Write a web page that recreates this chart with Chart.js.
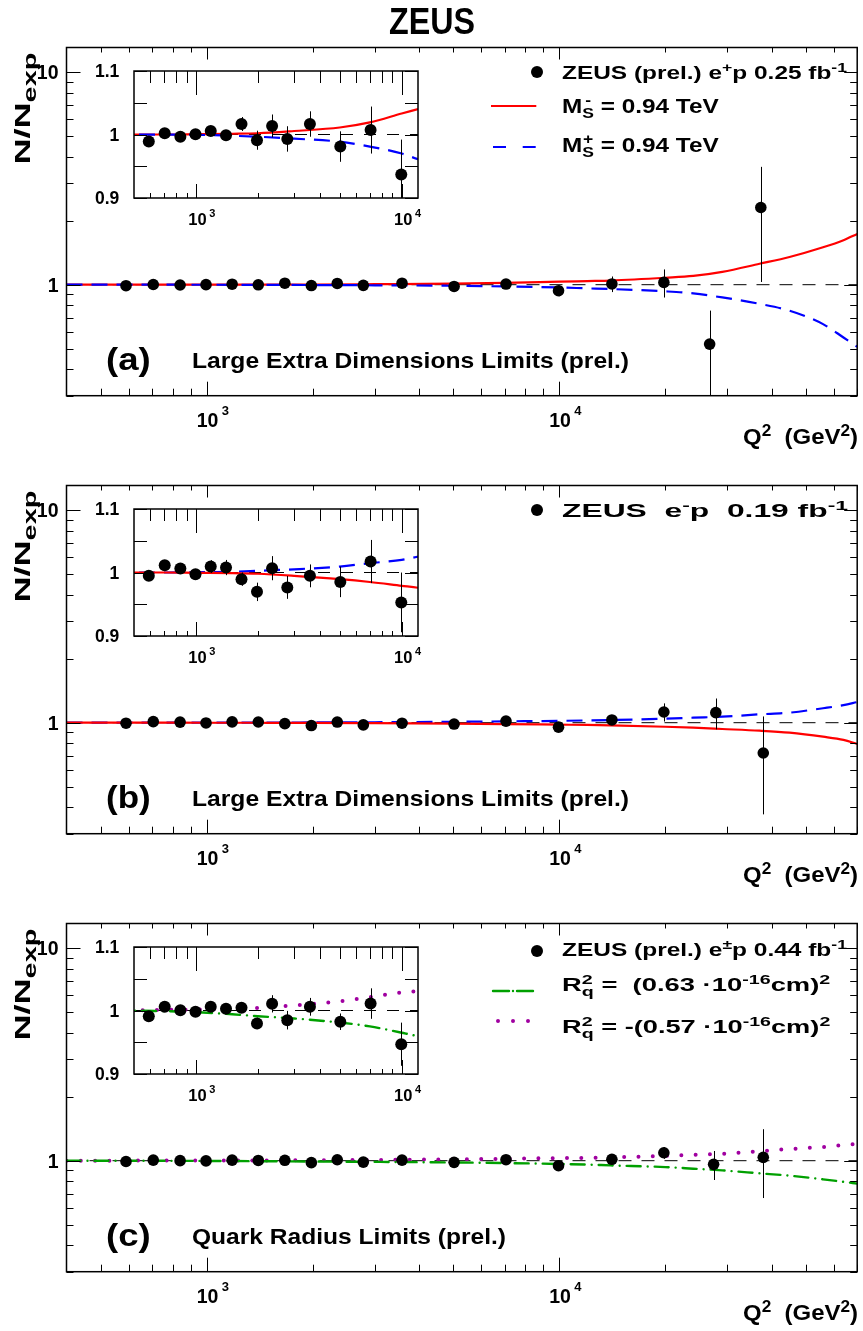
<!DOCTYPE html>
<html lang="en">
<head>
<meta charset="UTF-8" />
<title>ZEUS N/Nexp</title>
<script src="https://cdn.jsdelivr.net/npm/chart.js"></script>
<style>
  body { margin: 0; background: #fff; }
  #page { position: relative; width: 863px; height: 1331px; overflow: hidden;
          font-family: "Liberation Sans", Arial, Helvetica, sans-serif; font-weight: bold; color: #000; }
  canvas { position: absolute; }
  .t { position: absolute; white-space: nowrap; line-height: 1; }
  .sup { position: relative; top: -0.55em; font-size: 0.72em; }
  .sub { position: relative; top: 0.35em; font-size: 0.72em; }
  .leg { position: absolute; }
</style>
</head>
<body>
<div id="page"></div>

<script>
// ---- data ----
// Q2 bin centres (GeV^2); the last two bins sit a little differently per panel
const q2Common = [590, 705, 840, 995, 1180, 1400, 1665, 1980, 2345, 2780, 3580, 5030, 7060, 9950, 14100, 19800];
const q2A = [...q2Common, 26700, 37300];
const q2B = [...q2Common, 27800, 37900];
const q2C = [...q2Common, 27400, 37900];

// N/Nexp and errors
const ratioA = [0.989, 1.002, 0.9965, 1.0003, 1.0055, 0.999, 1.0165, 0.991, 1.0135, 0.993, 1.0165, 0.981, 1.007, 0.937, 1.008, 1.025, 0.525, 2.31];
const errA   = [0.006, 0.006, 0.006, 0.007, 0.007, 0.007, 0.011, 0.015, 0.018, 0.02, 0.02, 0.024, 0.037, 0.055, 0.085, 0.155, 0.23, 1.28];
const ratioB = [0.9947, 1.0115, 1.0063, 0.9973, 1.0094, 1.0078, 0.9895, 0.9695, 1.0068, 0.9765, 0.9947, 0.9852, 1.0173, 0.9529, 1.03, 1.123, 1.115, 0.72];
const errB   = [0.006, 0.007, 0.007, 0.007, 0.01, 0.012, 0.0105, 0.0145, 0.019, 0.018, 0.018, 0.024, 0.034, 0.047, 0.05, 0.11, 0.185, 0.35];
const ratioC = [0.9911, 1.0058, 1.0005, 0.998, 1.0058, 1.0027, 1.0042, 0.9797, 1.0105, 0.9848, 1.0058, 0.9823, 1.0109, 0.9469, 1.015, 1.09, 0.961, 1.037];
const errC   = [0.005, 0.005, 0.005, 0.005, 0.006, 0.006, 0.007, 0.009, 0.0136, 0.0146, 0.014, 0.013, 0.024, 0.034, 0.045, 0.07, 0.15, 0.37];

// model curves, sampled at these Q2 values
const curveQ2  = [400, 700, 1000, 1500, 2000, 3000, 5000, 7000, 10000, 12000, 14000, 20000, 24000, 29000, 37000, 45000, 56000, 64000, 70000];
const msMinusA = [1.0, 1.0, 1.0005, 1.0012, 1.002, 1.0055, 1.011, 1.019, 1.033, 1.04, 1.046, 1.078, 1.10, 1.15, 1.255, 1.35, 1.5, 1.62, 1.735];
const msPlusA  = [1.0, 0.9998, 0.9995, 0.998, 0.9965, 0.9934, 0.9887, 0.981, 0.97, 0.961, 0.954, 0.93, 0.91, 0.871, 0.812, 0.754, 0.652, 0.564, 0.51];
const msMinusB = [1.0, 1.0, 0.9995, 0.999, 0.998, 0.9947, 0.9895, 0.985, 0.979, 0.976, 0.972, 0.957, 0.947, 0.934, 0.917, 0.897, 0.859, 0.83, 0.794];
const msPlusB  = [1.0, 1.0, 1.0005, 1.001, 1.0026, 1.005, 1.0094, 1.0146, 1.02, 1.025, 1.03, 1.044, 1.056, 1.067, 1.095, 1.115, 1.17, 1.21, 1.25];
const rqPosC   = [1.0, 0.999, 0.9974, 0.994, 0.991, 0.9875, 0.981, 0.975, 0.965, 0.959, 0.95, 0.933, 0.917, 0.9, 0.872, 0.85, 0.817, 0.795, 0.78];
const rqNegC   = [1.0, 1.001, 1.0015, 1.003, 1.004, 1.008, 1.0146, 1.021, 1.0286, 1.031, 1.036, 1.053, 1.066, 1.078, 1.108, 1.135, 1.16, 1.185, 1.2];

// axes
const mainQ2Range = [400, 70000];
const mainRatioRange = [0.3, 13.1];
const insetQ2Range = [500, 12000];
const insetRatioRange = [0.9, 1.1];
const insetCount = 14;

const xMajorTicks = [1000, 10000];
const xExpLabels = ['3', '4'];
const mainXMinor = [500, 600, 700, 800, 900, 2000, 3000, 4000, 5000, 6000, 7000, 8000, 9000, 20000, 30000, 40000, 50000, 60000, 70000];
const insetXMinor = [600, 700, 800, 900, 2000, 3000, 4000, 5000, 6000, 7000, 8000, 9000];
const mainYMajor = [1, 10];
const mainYLabels = ['1', '10'];
const mainYMinor = [0.3, 0.4, 0.5, 0.6, 0.7, 0.8, 0.9, 2, 3, 4, 5, 6, 7, 8, 9];
const insetYMajor = [0.9, 1, 1.1];
const insetYLabels = ['0.9', '1', '1.1'];
const insetYMinor = [0.95, 1.05];

// ---- layout ----
const FAMILY = '"Liberation Sans", Arial, Helvetica, sans-serif';
const STEP = 438;
const RED = '#ff0000', BLUE = '#0000ff', GREEN = '#00a000', PURPLE = '#a000a0';
const page = document.getElementById('page');

function addCanvas(left, top, w, h) {
    const c = document.createElement('canvas');
    c.width = w; c.height = h;
    c.style.left = left + 'px'; c.style.top = top + 'px';
    c.style.width = w + 'px'; c.style.height = h + 'px';
    page.appendChild(c);
    return c;
}

// text placed by its left end and baseline, optionally stretched to a width
function addText(html, x, base, fs, opts = {}) {
    const d = document.createElement('div');
    d.className = 't';
    d.innerHTML = html;
    d.style.fontSize = fs + 'px';
    d.style.left = x + 'px';
    d.style.top = (base - 0.8465 * fs) + 'px';
    page.appendChild(d);
    const w = d.getBoundingClientRect().width;
    const sx = opts.width ? opts.width / w : 1;
    if (opts.center) d.style.left = (x - w * sx / 2) + 'px';
    d.style.transformOrigin = '0px ' + (0.8465 * fs) + 'px';
    d.style.transform = (opts.rotate ? 'rotate(-90deg) ' : '') + 'scaleX(' + sx + ')';
    return d;
}

function addSample(x, y, w, stroke) {
    const ns = 'http://www.w3.org/2000/svg';
    const s = document.createElementNS(ns, 'svg');
    s.setAttribute('class', 'leg');
    s.setAttribute('width', w + 10); s.setAttribute('height', 12);
    s.style.left = (x - 4) + 'px'; s.style.top = (y - 6) + 'px';
    const l = document.createElementNS(ns, 'line');
    l.setAttribute('x1', 4); l.setAttribute('x2', w + 4);
    l.setAttribute('y1', 6); l.setAttribute('y2', 6);
    for (const k in stroke) l.setAttribute(k, stroke[k]);
    s.appendChild(l);
    page.appendChild(s);
}

function addDot(cx, cy, r) {
    const d = document.createElement('div');
    d.style.cssText = `position:absolute;left:${cx - r}px;top:${cy - r}px;width:${2 * r}px;height:${2 * r}px;border-radius:50%;background:#000`;
    page.appendChild(d);
}

// ROOT-like frame: inward ticks, "10^n" labels, error bars under the markers
function rootFrame(cfg) {
    return {
        id: 'rootFrame',
        beforeDatasetDraw(chart, args) {
            if (args.index !== 0) return;
            const { ctx, chartArea: a, scales: { x, y } } = chart;
            const pts = chart.data.datasets[0].data;
            ctx.save();
            ctx.beginPath();
            ctx.rect(a.left, a.top, a.right - a.left, a.bottom - a.top);
            ctx.clip();
            ctx.strokeStyle = '#000';
            ctx.lineWidth = 1;
            pts.forEach((p, i) => {
                const e = cfg.errors[i];
                const px = Math.round(x.getPixelForValue(p.x)) + 0.5;
                const lo = Math.max(p.y - e, y.min * 0.5);
                ctx.beginPath();
                ctx.moveTo(px, y.getPixelForValue(p.y + e));
                ctx.lineTo(px, y.getPixelForValue(lo));
                ctx.stroke();
            });
            ctx.restore();
        },
        afterDraw(chart) {
            const { ctx, chartArea: a, scales: { x, y } } = chart;
            const t = cfg.ticks, f = cfg.font;
            ctx.save();
            ctx.strokeStyle = '#000';
            ctx.lineWidth = 1;
            ctx.beginPath();
            const vx = (v, lb, lt) => {
                const px = Math.round(x.getPixelForValue(v)) + 0.5;
                ctx.moveTo(px, a.bottom); ctx.lineTo(px, a.bottom - lb);
                ctx.moveTo(px, a.top); ctx.lineTo(px, a.top + lt);
            };
            const hy = (v, ll, lr) => {
                const py = Math.round(y.getPixelForValue(v)) + 0.5;
                ctx.moveTo(a.left, py); ctx.lineTo(a.left + ll, py);
                ctx.moveTo(a.right, py); ctx.lineTo(a.right - lr, py);
            };
            xMajorTicks.forEach(v => vx(v, t.xBot[0], t.xTop[0]));
            cfg.xMinor.forEach(v => vx(v, t.xBot[1], t.xTop[1]));
            cfg.yMajor.forEach(v => hy(v, t.yL[0], t.yR[0]));
            cfg.yMinor.forEach(v => hy(v, t.yL[1], t.yR[1]));
            ctx.stroke();
            ctx.lineWidth = cfg.frameWidth;
            ctx.strokeRect(a.left, a.top, a.right - a.left, a.bottom - a.top);

            ctx.fillStyle = '#000';
            ctx.textBaseline = 'alphabetic';
            ctx.font = `bold ${f.x}px ${FAMILY}`;
            const w10 = ctx.measureText('10').width;
            xMajorTicks.forEach((v, i) => {
                const px = x.getPixelForValue(v) + f.xShift;
                ctx.font = `bold ${f.x}px ${FAMILY}`;
                ctx.textAlign = 'center';
                ctx.fillText('10', px, a.bottom + f.xBase);
                ctx.font = `bold ${f.xSup}px ${FAMILY}`;
                ctx.textAlign = 'left';
                ctx.fillText(xExpLabels[i], px + w10 / 2 + f.supGap, a.bottom + f.xBase - f.supRaise);
            });
            ctx.font = `bold ${f.y}px ${FAMILY}`;
            ctx.textAlign = 'right';
            cfg.yMajor.forEach((v, i) => {
                ctx.fillText(cfg.yLabels[i], a.left - f.yGap, y.getPixelForValue(v) + 0.36 * f.y);
            });
            ctx.restore();
        }
    };
}

function pts(xs, ys, n) {
    return xs.slice(0, n).map((x, i) => ({ x, y: ys[i] }));
}

function makeChart(canvas, o) {
    const lines = o.curves.map(c => ({
        type: 'line',
        data: pts(curveQ2, c.values, curveQ2.length),
        borderColor: c.color,
        borderWidth: c.width,
        borderDash: c.dash || [],
        borderCapStyle: c.cap || 'butt',
        pointRadius: 0,
        cubicInterpolationMode: 'monotone',
        fill: false
    }));
    return new Chart(canvas, {
        type: 'scatter',
        data: {
            datasets: [
                { data: pts(o.q2, o.ratio, o.n), pointRadius: o.radius, pointBorderWidth: 0,
                  pointBackgroundColor: '#000', showLine: false },
                ...lines,
                { type: 'line', data: [{ x: o.xRange[0], y: 1 }, { x: o.xRange[1], y: 1 }],
                  borderColor: '#000', borderWidth: 1, borderDash: o.unitDash, pointRadius: 0 }
            ]
        },
        options: {
            responsive: false,
            animation: false,
            devicePixelRatio: 1,
            events: [],
            layout: { padding: o.padding },
            plugins: { legend: { display: false }, tooltip: { enabled: false } },
            scales: {
                x: { type: 'logarithmic', min: o.xRange[0], max: o.xRange[1], display: false },
                y: { type: o.yType, min: o.yRange[0], max: o.yRange[1], display: false }
            }
        },
        plugins: [rootFrame({
            errors: o.err, xMinor: o.xMinor, yMajor: o.yMajor, yLabels: o.yLabels, yMinor: o.yMinor,
            ticks: o.ticks, font: o.font, frameWidth: 1.5
        })]
    });
}

const redLine = v => ({ values: v, color: RED, width: 2.2 });
const blueLine = v => ({ values: v, color: BLUE, width: 2.2, dash: [16, 9] });
const greenLine = v => ({ values: v, color: GREEN, width: 2.4, dash: [14, 7, 0.01, 7], cap: 'round' });
const purpleLine = v => ({ values: v, color: PURPLE, width: 4, dash: [0, 14.3], cap: 'round' });

const panels = [
    { q2: q2A, ratio: ratioA, err: errA, curves: [blueLine(msPlusA), redLine(msMinusA)] },
    { q2: q2B, ratio: ratioB, err: errB, curves: [redLine(msMinusB), blueLine(msPlusB)] },
    { q2: q2C, ratio: ratioC, err: errC, curves: [greenLine(rqPosC), purpleLine(rqNegC)] }
];

panels.forEach((p, k) => {
    const top = STEP * k;
    makeChart(addCanvas(0, top, 863, 438), {
        q2: p.q2, ratio: p.ratio, err: p.err, n: p.q2.length, curves: p.curves, radius: 5.8,
        xRange: mainQ2Range, yRange: mainRatioRange, yType: 'logarithmic', unitDash: [13, 10],
        padding: { left: 66.5, right: 3, top: 47.5, bottom: 42.3 },
        xMinor: mainXMinor, yMajor: mainYMajor, yLabels: mainYLabels, yMinor: mainYMinor,
        ticks: { xBot: [14, 7], xTop: [12, 5], yL: [14, 7], yR: [13, 7] },
        font: { x: 19.5, xSup: 13, xBase: 31.6, xShift: 0.8, supGap: 3.4, supRaise: 12.3, y: 19.5, yGap: 8 }
    });
    makeChart(addCanvas(78, top + 52.7, 352, 175), {
        q2: p.q2, ratio: p.ratio, err: p.err, n: insetCount, curves: p.curves, radius: 6,
        xRange: insetQ2Range, yRange: insetRatioRange, yType: 'linear', unitDash: [12, 11],
        padding: { left: 56, right: 12, top: 18, bottom: 30 },
        xMinor: insetXMinor, yMajor: insetYMajor, yLabels: insetYLabels, yMinor: insetYMinor,
        ticks: { xBot: [14, 5], xTop: [24, 12], yL: [13, 13], yR: [13, 13] },
        font: { x: 16.5, xSup: 11, xBase: 27, xShift: 1.5, supGap: 2.6, supRaise: 8.3, y: 17.5, yGap: 14.7 }
    });

    addText('N/N<span class="sub" style="font-size:0.8em">exp</span>', 31, top + 165, 22, { rotate: true, width: 112 });
    addText('Q<span class="sup">2</span>&nbsp; (GeV<span class="sup">2</span>)', 743.3, top + 445, 22, { width: 115 });
});

// title
addText('ZEUS', 432, 34, 37, { center: true, width: 86 });

// panel captions
addText('(a)', 106, 370, 32, { width: 44.7 });
addText('Large Extra Dimensions Limits (prel.)', 191.7, 369.3, 22.3, { width: 437 });
addText('(b)', 106, 370 + STEP, 32, { width: 44.7 });
addText('Large Extra Dimensions Limits (prel.)', 191.7, 369.3 + STEP, 22.3, { width: 437 });
addText('(c)', 106, 370 + 2 * STEP, 32, { width: 44.7 });
addText('Quark Radius Limits (prel.)', 191.7, 369.3 + 2 * STEP, 22.3, { width: 314 });

// legends
const supMinusS = '<span class="sub">S</span><span class="sup" style="margin:0 0.167em 0 -0.5em">-</span>';
const supPlusS = '<span class="sub">S</span><span class="sup" style="margin:0 0.04em 0 -0.625em">+</span>';
const rq2 = '<span class="sub">q</span><span class="sup" style="margin:0 0.055em 0 -0.611em">2</span>';

addDot(536.5, 72.3, 6);
addText('ZEUS (prel.) e<span class="sup">+</span>p 0.25 fb<span class="sup">-1</span>', 561.7, 79, 18, { width: 285 });
addSample(490.7, 105.7, 45.3, { stroke: RED, 'stroke-width': 2.2 });
addText('M' + supMinusS + ' = 0.94 TeV', 561.7, 113.3, 19.5, { width: 156.7 });
addSample(493.3, 146.7, 42.7, { stroke: BLUE, 'stroke-width': 2.2, 'stroke-dasharray': '13 16.7' });
addText('M' + supPlusS + ' = 0.94 TeV', 561.7, 152.7, 19.5, { width: 156.7 });

addDot(536.5, 72.3 + STEP, 6);
addText('ZEUS&nbsp; e<span class="sup">-</span>p&nbsp; 0.19 fb<span class="sup">-1</span>', 561.7, 79 + STEP, 18, { width: 286 });

addDot(537.3, 950.7, 6);
addText('ZEUS (prel.) e<span class="sup">±</span>p 0.44 fb<span class="sup">-1</span>', 561.7, 956, 18, { width: 285 });
addSample(493.3, 990.7, 42.7, { stroke: GREEN, 'stroke-width': 2.4, 'stroke-dasharray': '16 4 0.01 4', 'stroke-linecap': 'round' });
addText('R' + rq2 + ' =&nbsp; (0.63 ·10<span class="sup">-16</span>cm)<span class="sup">2</span>', 561.7, 991.7, 18.6, { width: 268.3 });
addSample(498, 1021, 30.5, { stroke: PURPLE, 'stroke-width': 4, 'stroke-dasharray': '0 15', 'stroke-linecap': 'round' });
addText('R' + rq2 + ' = -(0.57 ·10<span class="sup">-16</span>cm)<span class="sup">2</span>', 561.7, 1034, 18.6, { width: 268.3 });
</script>
</body>
</html>
